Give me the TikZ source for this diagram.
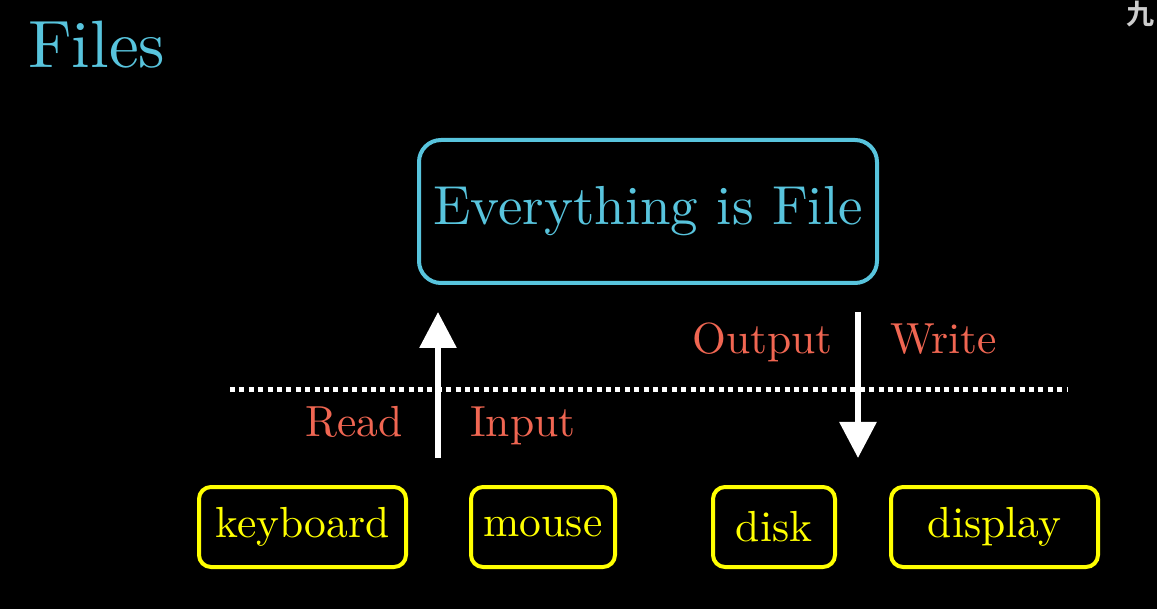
\documentclass[tikz,border=0pt]{standalone}
\usepackage{fontspec}
\setmainfont{lmroman10-regular}[Extension=.otf]
\newfontfamily\cjk{Noto Sans CJK SC}[BoldFont={* Bold}]
\usetikzlibrary{arrows.meta}
\definecolor{mblue}{HTML}{58C4DD}
\definecolor{mred}{RGB}{240,102,82}
\definecolor{myellow}{HTML}{FFFF00}
\definecolor{mgray}{RGB}{205,205,205}
\tikzset{
  bigbox/.style={draw=mblue, line width=4pt, rounded corners=22pt, text=mblue,
    minimum width=458pt, minimum height=143pt, inner sep=0pt,
    font=\fontsize{55}{66}\selectfont},
  devbox/.style={draw=myellow, line width=4pt, rounded corners=12pt, text=myellow,
    minimum height=80pt, inner sep=0pt, font=\fontsize{43.5}{52}\selectfont},
  lbl/.style={text=mred, inner sep=0pt, anchor=base west, font=\fontsize{43.5}{52}\selectfont},
  flow/.style={draw=white, line width=6pt, -{Triangle[width=36pt,length=36pt]}},
  divider/.style={draw=white, line width=5pt, dash pattern=on 5pt off 4.4pt},
}
\begin{document}
\begin{tikzpicture}[x=1pt,y=-1pt]
\fill[black] (0,0) rectangle (1157,609);
\useasboundingbox (0,0) rectangle (1157,609);
\node[text=mblue, inner sep=0pt, anchor=base west, font=\fontsize{67}{80}\selectfont] (title) at (28,68) {Files};
\node[text=mgray, inner sep=0pt, font=\cjk\bfseries\fontsize{28}{30}\selectfont] (mark) at (1140,14) {九};
\node[bigbox] (everything) at (648,211.5) {Everything is File};
\draw[divider] (230,390) -- (1068,390);
\coordinate (inBot) at (438,458);
\coordinate (inTop) at (438,312);
\coordinate (outTop) at (858,312);
\coordinate (outBot) at (858,458);
\draw[flow] (inBot) -- (inTop);
\draw[flow] (outTop) -- (outBot);
\node[lbl] (read) at (305,437) {Read};
\node[lbl] (input) at (470,437) {Input};
\node[lbl] (output) at (692,354) {Output};
\node[lbl] (write) at (890,354) {Write};
\node[devbox, minimum width=207pt] (keyboard) at (302.5,527) {keyboard};
\node[devbox, minimum width=144pt] (mouse) at (543,527) {mouse};
\node[devbox, minimum width=122pt] (disk) at (774,527) {disk};
\node[devbox, minimum width=207pt] (display) at (994.5,527) {display};
\end{tikzpicture}
\end{document}
